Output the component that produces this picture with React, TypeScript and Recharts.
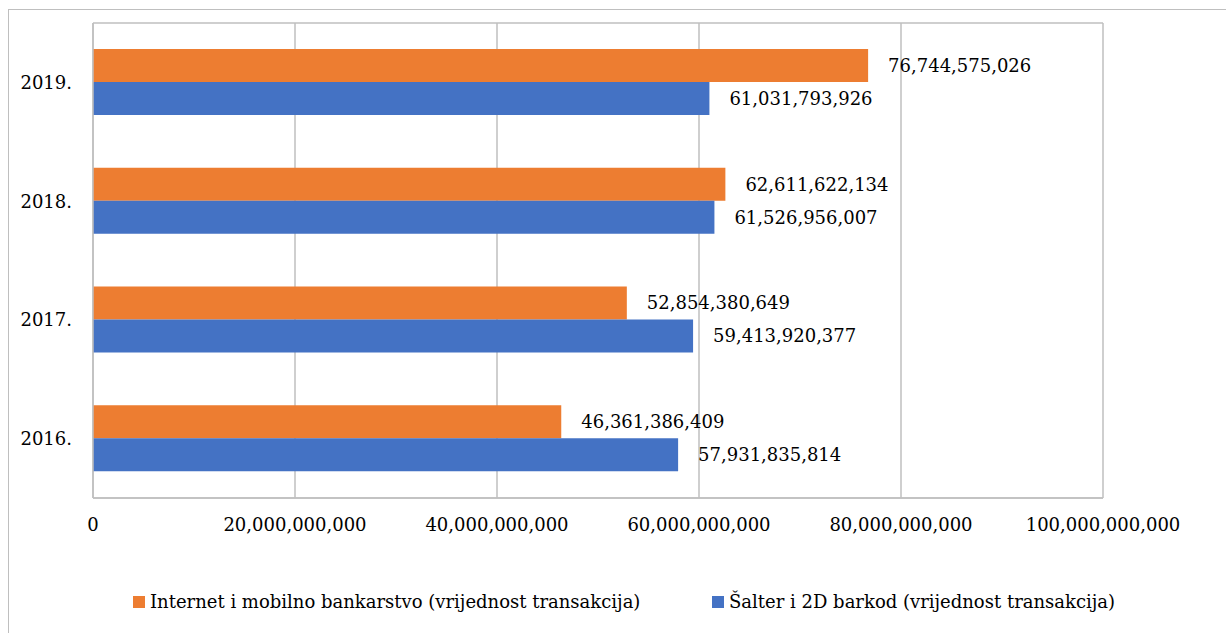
import { BarChart, Bar, XAxis, YAxis, CartesianGrid, LabelList } from 'recharts';

const years = ['2016.', '2017.', '2018.', '2019.'];
const internetValues = [46361386409, 52854380649, 62611622134, 76744575026];
const salterValues = [57931835814, 59413920377, 61526956007, 61031793926];
const xTicks = [0, 20000000000, 40000000000, 60000000000, 80000000000, 100000000000];
const seriesNames = [
  'Internet i mobilno bankarstvo (vrijednost transakcija)',
  'Šalter i 2D barkod (vrijednost transakcija)',
];
const seriesColors = ['#ED7D31', '#4472C4'];

const FONT = "'DejaVu Serif', serif";
const FS = 18;
const GRID = '#bfbfbf';
const MARGIN = { top: 23, right: 123, bottom: 95, left: 13 };
const HEIGHT = 633;
const X_AXIS_H = 40;

const fmt = (v: number) => v.toLocaleString('en-US');

export default function App() {
  const data = years.map((y, i) => ({
    year: y,
    internet: internetValues[i],
    salter: salterValues[i],
  }));
  const plotBottom = HEIGHT - MARGIN.bottom - X_AXIS_H;
  const textStyle = { fill: '#000', fontSize: FS, fontFamily: FONT };

  return (
    <div style={{ position: 'relative', width: 1226, height: 633, overflow: 'hidden', fontFamily: FONT }}>
      <style>{'body{margin:0}'}</style>
      <div
        style={{
          position: 'absolute', left: 8, top: 9, width: 1240, height: 660,
          border: `1px solid ${GRID}`,
        }}
      />
      <div style={{ position: 'absolute', left: 0, top: 0 }}>
        <BarChart
          width={1226}
          height={HEIGHT}
          data={data}
          layout="vertical"
          margin={MARGIN}
          barGap={0}
          barSize={33}
          style={{ fontFamily: FONT }}
        >
          <CartesianGrid
            stroke={GRID}
            strokeWidth={1.5}
            horizontalPoints={[MARGIN.top, plotBottom]}
          />
          <XAxis
            type="number"
            domain={[0, 100000000000]}
            ticks={xTicks}
            tickFormatter={fmt}
            axisLine={{ stroke: GRID, strokeWidth: 1.5 }}
            tickLine={false}
            tickMargin={14}
            height={X_AXIS_H}
            interval={0}
            tick={textStyle}
          />
          <YAxis
            type="category"
            dataKey="year"
            reversed
            width={80}
            axisLine={{ stroke: GRID, strokeWidth: 1.5 }}
            tickLine={false}
            tickMargin={15}
            tick={textStyle}
          />
          <Bar dataKey="internet" fill={seriesColors[0]} isAnimationActive={false}>
            <LabelList
              dataKey="internet"
              position="right"
              offset={20}
              formatter={(v: any) => fmt(Number(v))}
              style={textStyle}
            />
          </Bar>
          <Bar dataKey="salter" fill={seriesColors[1]} isAnimationActive={false}>
            <LabelList
              dataKey="salter"
              position="right"
              offset={20}
              formatter={(v: any) => fmt(Number(v))}
              style={textStyle}
            />
          </Bar>
        </BarChart>
      </div>
      <div
        style={{
          position: 'absolute', top: 591, left: 0, width: 1226,
          fontSize: FS, color: '#000',
        }}
      >
        {seriesNames.map((name, i) => (
          <div
            key={name}
            style={{
              position: 'absolute', left: i === 0 ? 133 : 712,
              display: 'flex', alignItems: 'center', whiteSpace: 'nowrap',
            }}
          >
            <span style={{ width: 12, height: 12, background: seriesColors[i], marginRight: 5 }} />
            <span>{name}</span>
          </div>
        ))}
      </div>
    </div>
  );
}
